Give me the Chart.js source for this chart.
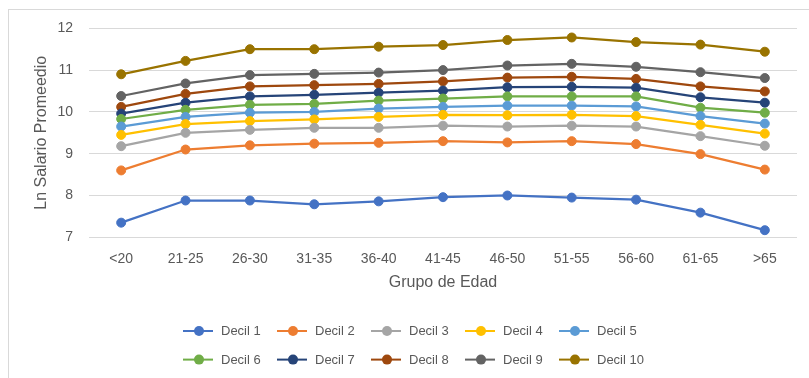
<!DOCTYPE html>
<html>
<head>
<meta charset="utf-8">
<script src="https://cdn.jsdelivr.net/npm/chart.js@4/dist/chart.umd.min.js"></script>
<style>
  html, body { margin: 0; padding: 0; background: #ffffff; }
  #wrap { position: relative; width: 809px; height: 378px; overflow: hidden; }
  #frame { position: absolute; left: 8px; top: 9px; width: 820px; height: 400px;
           border-left: 1px solid #d9d9d9; border-top: 1px solid #d9d9d9; }
  #c { position: absolute; left: 0; top: 0; }
</style>
</head>
<body>
<div id="wrap">
  <div id="frame"></div>
  <canvas id="c" width="809" height="378"></canvas>
</div>
<script>
// Age groups
const ageGroups = ['<20', '21-25', '26-30', '31-35', '36-40', '41-45', '46-50', '51-55', '56-60', '61-65', '>65'];

// Log of average salary by wage decile
const decil1  = [7.35, 7.88, 7.88, 7.79, 7.86, 7.96, 8.00, 7.95, 7.90, 7.59, 7.17];
const decil2  = [8.60, 9.10, 9.20, 9.24, 9.26, 9.30, 9.27, 9.30, 9.23, 8.99, 8.62];
const decil3  = [9.18, 9.50, 9.57, 9.62, 9.62, 9.67, 9.65, 9.67, 9.65, 9.42, 9.19];
const decil4  = [9.45, 9.71, 9.78, 9.82, 9.88, 9.93, 9.92, 9.93, 9.90, 9.69, 9.48];
const decil5  = [9.65, 9.88, 9.98, 10.00, 10.08, 10.12, 10.15, 10.15, 10.13, 9.90, 9.72];
const decil6  = [9.83, 10.05, 10.17, 10.19, 10.27, 10.32, 10.37, 10.37, 10.37, 10.10, 9.98];
const decil7  = [9.96, 10.22, 10.37, 10.41, 10.46, 10.51, 10.59, 10.60, 10.58, 10.35, 10.22];
const decil8  = [10.12, 10.43, 10.61, 10.64, 10.67, 10.73, 10.82, 10.84, 10.79, 10.61, 10.49];
const decil9  = [10.38, 10.68, 10.88, 10.91, 10.94, 11.00, 11.11, 11.15, 11.08, 10.95, 10.81];
const decil10 = [10.90, 11.22, 11.50, 11.50, 11.56, 11.60, 11.72, 11.78, 11.67, 11.61, 11.44];

const seriesNames = ['Decil 1', 'Decil 2', 'Decil 3', 'Decil 4', 'Decil 5',
                     'Decil 6', 'Decil 7', 'Decil 8', 'Decil 9', 'Decil 10'];
const seriesValues = [decil1, decil2, decil3, decil4, decil5, decil6, decil7, decil8, decil9, decil10];
const seriesColors = ['#4472C4', '#ED7D31', '#A5A5A5', '#FFC000', '#5B9BD5',
                      '#70AD47', '#264478', '#9E480E', '#636363', '#997300'];

const yTicks = [7, 8, 9, 10, 11, 12];

const FONT = '"Liberation Sans", Arial, sans-serif';
const TEXT = '#595959';

const datasets = seriesNames.map((name, i) => ({
  label: name,
  data: seriesValues[i],
  borderColor: seriesColors[i],
  backgroundColor: seriesColors[i],
  borderWidth: 2.25,
  pointRadius: 4.5,
  pointBorderWidth: 1,
  pointBackgroundColor: seriesColors[i],
  pointBorderColor: seriesColors[i],
  tension: 0
}));

// Two-row legend with a line-and-marker symbol per series
const legendRows = {
  id: 'legendRows',
  afterDraw(chart) {
    const ctx = chart.ctx;
    ctx.save();
    ctx.font = '13px ' + FONT;
    ctx.textBaseline = 'middle';
    ctx.textAlign = 'left';
    chart.data.datasets.forEach((ds, i) => {
      const col = i % 5, row = Math.floor(i / 5);
      const x0 = 183 + col * 94;
      const y = 331 + row * 28.6;
      ctx.strokeStyle = ds.borderColor;
      ctx.lineWidth = 2;
      ctx.beginPath();
      ctx.moveTo(x0, y);
      ctx.lineTo(x0 + 30, y);
      ctx.stroke();
      ctx.fillStyle = ds.borderColor;
      ctx.beginPath();
      ctx.arc(x0 + 16, y, 5, 0, Math.PI * 2);
      ctx.fill();
      ctx.fillStyle = TEXT;
      ctx.fillText(ds.label, x0 + 38, y + 0.5);
    });
    ctx.restore();
  }
};

new Chart(document.getElementById('c'), {
  type: 'line',
  data: { labels: ageGroups, datasets },
  options: {
    responsive: false,
    animation: false,
    events: [],
    layout: { padding: { top: 28.3, left: 28, right: 12, bottom: 81.4 } },
    plugins: {
      legend: { display: false },
      tooltip: { enabled: false }
    },
    scales: {
      x: {
        offset: true,
        grid: { display: false, drawTicks: false },
        border: { display: false },
        ticks: { color: TEXT, font: { family: FONT, size: 14 }, padding: 13, maxRotation: 0, autoSkip: false },
        title: { display: true, text: 'Grupo de Edad', color: TEXT,
                 font: { family: FONT, size: 16 }, padding: { top: 4, bottom: 4 } },
        afterFit(scale) { scale.height = 59.3; }
      },
      y: {
        min: 7,
        max: 12,
        afterBuildTicks(scale) { scale.ticks = yTicks.map(v => ({ value: v })); },
        grid: { color: '#d9d9d9', lineWidth: 1, drawTicks: false },
        border: { display: false },
        ticks: { color: TEXT, font: { family: FONT, size: 14 }, padding: 16 },
        title: { display: true, text: 'Ln Salario Promeedio', color: TEXT,
                 font: { family: FONT, size: 16 }, padding: { top: 4, bottom: 4 } },
        afterFit(scale) { scale.width = 61; }
      }
    }
  },
  plugins: [legendRows]
});
</script>
</body>
</html>
